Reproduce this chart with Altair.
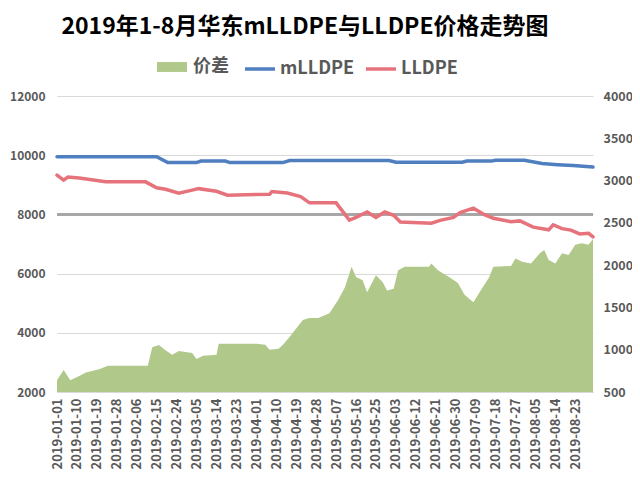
import altair as alt
import pandas as pd

# ---------------- data ----------------
series_names = ["价差", "mLLDPE", "LLDPE"]
series_colors = ["#b0c98a", "#4f7fbf", "#e6737c"]

mlldpe_dates = ["2019-01-01", "2019-02-15", "2019-02-20", "2019-03-05", "2019-03-07",
                "2019-03-18", "2019-03-20", "2019-04-13", "2019-04-16", "2019-05-31",
                "2019-06-03", "2019-07-03", "2019-07-05", "2019-07-16", "2019-07-18",
                "2019-07-31", "2019-08-08", "2019-08-15", "2019-08-22", "2019-08-31"]
mlldpe_values = [9950, 9950, 9750, 9750, 9800, 9800, 9750, 9750, 9820, 9820,
                 9760, 9760, 9800, 9800, 9830, 9830, 9720, 9680, 9650, 9600]

lldpe_dates = ["2019-01-01", "2019-01-04", "2019-01-06", "2019-01-11", "2019-01-23",
               "2019-02-10", "2019-02-15", "2019-02-19", "2019-02-25", "2019-03-03",
               "2019-03-06", "2019-03-14", "2019-03-19", "2019-04-07", "2019-04-08",
               "2019-04-15", "2019-04-21", "2019-04-25", "2019-05-07", "2019-05-13",
               "2019-05-16", "2019-05-21", "2019-05-25", "2019-05-29", "2019-06-02",
               "2019-06-05", "2019-06-19", "2019-06-23", "2019-06-29", "2019-07-02",
               "2019-07-08", "2019-07-13", "2019-07-17", "2019-07-25", "2019-07-29",
               "2019-08-04", "2019-08-11", "2019-08-13", "2019-08-17", "2019-08-21",
               "2019-08-25", "2019-08-29", "2019-08-31"]
lldpe_values = [9330, 9160, 9260, 9230, 9100, 9100, 8900, 8850, 8720, 8820,
                8870, 8780, 8650, 8680, 8770, 8720, 8600, 8390, 8390, 7810,
                7900, 8080, 7900, 8080, 7970, 7740, 7700, 7800, 7900, 8060,
                8210, 7990, 7870, 7750, 7780, 7570, 7480, 7650, 7520, 7470,
                7340, 7360, 7240]

spread_dates = ["2019-01-01", "2019-01-04", "2019-01-07", "2019-01-11", "2019-01-14",
                "2019-01-20", "2019-01-24", "2019-02-11", "2019-02-13", "2019-02-16",
                "2019-02-19", "2019-02-22", "2019-02-25", "2019-03-03", "2019-03-05",
                "2019-03-08", "2019-03-14", "2019-03-15", "2019-04-01", "2019-04-05",
                "2019-04-07", "2019-04-11", "2019-04-13", "2019-04-16", "2019-04-19",
                "2019-04-22", "2019-04-25", "2019-04-29", "2019-05-04", "2019-05-08",
                "2019-05-11", "2019-05-14", "2019-05-16", "2019-05-19", "2019-05-21",
                "2019-05-25", "2019-05-28", "2019-05-30", "2019-06-02", "2019-06-04",
                "2019-06-07", "2019-06-18", "2019-06-19", "2019-06-22", "2019-06-27",
                "2019-07-01", "2019-07-04", "2019-07-08", "2019-07-12", "2019-07-15",
                "2019-07-17", "2019-07-25", "2019-07-27", "2019-07-30", "2019-08-03",
                "2019-08-07", "2019-08-09", "2019-08-11", "2019-08-14", "2019-08-17",
                "2019-08-20", "2019-08-23", "2019-08-26", "2019-08-29", "2019-08-31"]
spread_values = [640, 760, 640, 690, 730, 770, 810, 810, 1030, 1055,
                 995, 940, 985, 960, 890, 930, 940, 1070, 1070, 1060,
                 1000, 1010, 1060, 1150, 1250, 1350, 1375, 1375, 1430, 1590,
                 1740, 1980, 1860, 1820, 1680, 1880, 1800, 1700, 1720, 1940,
                 1980, 1980, 2020, 1940, 1860, 1790, 1650, 1560, 1730, 1850,
                 1980, 1990, 2080, 2040, 2020, 2140, 2180, 2060, 2020, 2140,
                 2120, 2240, 2260, 2240, 2310]

tick_dates = ["2019-01-01", "2019-01-10", "2019-01-19", "2019-01-28", "2019-02-06",
              "2019-02-15", "2019-02-24", "2019-03-05", "2019-03-14", "2019-03-23",
              "2019-04-01", "2019-04-10", "2019-04-19", "2019-04-28", "2019-05-07",
              "2019-05-16", "2019-05-25", "2019-06-03", "2019-06-12", "2019-06-21",
              "2019-06-30", "2019-07-09", "2019-07-18", "2019-07-27", "2019-08-05",
              "2019-08-14", "2019-08-23"]

left_ticks = [2000, 3000, 4000, 5000, 6000, 7000, 8000, 9000, 10000, 11000, 12000]
right_ticks = [500, 1000, 1500, 2000, 2500, 3000, 3500, 4000]

title_text = "2019年1-8月华东mLLDPE与LLDPE价格走势图"

# ---------------- build ----------------
rows = []
for name, ds, vs in [("价差", spread_dates, spread_values),
                     ("mLLDPE", mlldpe_dates, mlldpe_values),
                     ("LLDPE", lldpe_dates, lldpe_values)]:
    for d, v in zip(ds, vs):
        rows.append({"date": d + "T00:00:00", "value": v, "series": name})
df = pd.DataFrame(rows)


def dt(s):
    y, m, d = map(int, s.split("-"))
    return alt.DateTime(year=y, month=m, date=d)


font = "Noto Sans CJK SC"
label_color = "#595959"

x_enc = alt.X(
    "date:T",
    scale=alt.Scale(domain=[dt("2019-01-01"), dt("2019-08-31")]),
    axis=alt.Axis(values=[dt(s) for s in tick_dates], format="%Y-%m-%d",
                  labelAngle=270, title=None, grid=False, ticks=False,
                  domain=True, domainColor="#d9d9d9", labelFont=font,
                  labelFontSize=13, labelFontWeight="bold", labelColor=label_color,
                  labelPadding=6, labelOverlap=False),
)

legend_common = dict(title=None, orient="none", direction="horizontal",
                     labelFont=font, labelFontSize=18, labelFontWeight="bold",
                     labelColor=label_color, symbolSize=900)

area_color = alt.Color(
    "series:N",
    scale=alt.Scale(domain=series_names[:1], range=series_colors[:1]),
    legend=alt.Legend(legendX=100, legendY=-44, symbolType="M-1,-0.33H1V0.33H-1Z",
                      symbolStrokeWidth=0, labelOffset=6, **legend_common),
)

line_color = alt.Color(
    "series:N",
    scale=alt.Scale(domain=series_names[1:], range=series_colors[1:]),
    legend=alt.Legend(legendX=186, legendY=-44, symbolType="stroke",
                      symbolStrokeWidth=3.5, labelOffset=3, columnPadding=4,
                      **legend_common),
)

base = alt.Chart(df)

area = base.transform_filter(alt.datum.series == "价差").mark_area(opacity=1).encode(
    x=x_enc,
    y=alt.Y("value:Q", scale=alt.Scale(domain=[500, 4000], nice=False, zero=False),
            axis=alt.Axis(orient="right", values=right_ticks, format="d", title=None,
                          grid=False, ticks=False, domain=False, labelFont=font,
                          labelFontSize=12.5, labelFontWeight="bold",
                          labelColor=label_color, labelPadding=10)),
    y2=alt.datum(500),
    color=area_color,
)

lines = base.transform_filter(alt.datum.series != "价差").mark_line(
    strokeWidth=3.5, strokeCap="round").encode(
    x=x_enc,
    y=alt.Y("value:Q", scale=alt.Scale(domain=[2000, 12000], nice=False, zero=False),
            axis=alt.Axis(orient="left", values=left_ticks, format="d", title=None,
                          grid=True, gridColor="#d9d9d9", gridWidth=1, ticks=False,
                          domain=False, labelFont=font, labelFontSize=12,
                          labelFontWeight="bold", labelColor=label_color,
                          labelPadding=12)),
    color=line_color,
)

dark_rule = alt.Chart(df).mark_rule(color="#a6a6a6", strokeWidth=1.5).encode(
    y=alt.datum(8000)
)

left_layer = alt.layer(dark_rule, lines)

chart = alt.layer(area, left_layer).resolve_scale(
    y="independent", color="independent"
).properties(
    width=536,
    height=296,
    padding={"left": 49, "top": 88, "right": 39, "bottom": 80},
    autosize=alt.AutoSizeParams(type="none"),
    title=alt.TitleParams(text=title_text, font=font, fontSize=23, fontWeight="bold",
                          color="#000000", anchor="middle", offset=13, dx=-20),
).configure_view(stroke=None)

chart.save("out.html", embed_options={"renderer": "svg", "actions": False})
